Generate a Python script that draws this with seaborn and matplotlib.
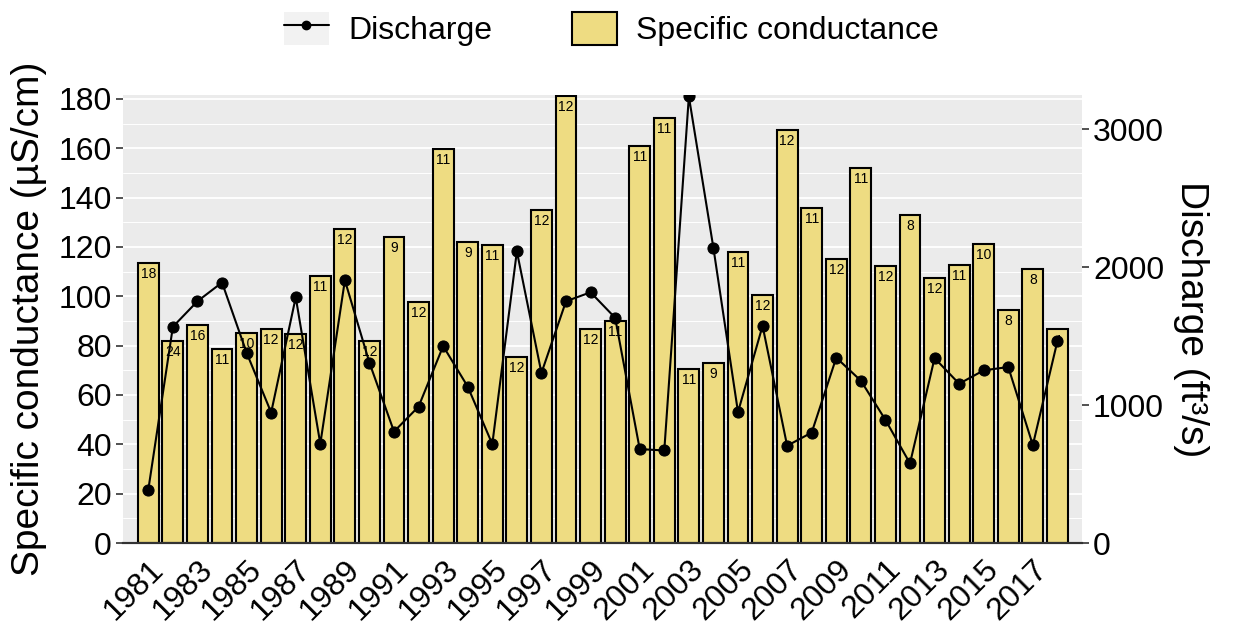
import numpy as np
import pandas as pd
import matplotlib.pyplot as plt
import seaborn as sns
from matplotlib.lines import Line2D
from matplotlib.patches import Patch
from matplotlib.legend_handler import HandlerTuple
from matplotlib.ticker import MultipleLocator

# values
years = list(range(1981, 2019))
conductance = [113.6, 82.0, 88.4, 78.8, 85.0, 86.9, 84.7, 108.2, 127.3, 82.0,
               124.2, 97.6, 159.7, 121.9, 120.7, 75.4, 134.9, 181.3, 86.7, 90.1,
               160.8, 172.2, 70.7, 73.0, 118.0, 100.7, 167.4, 135.8, 115.1, 152.0,
               112.4, 133.1, 107.4, 112.6, 121.2, 94.4, 111.1, 86.6]
samples = [18, 24, 16, 11, 10, 12, 12, 11, 12, 12,
           9, 12, 11, 9, 11, 12, 12, 12, 12, 11,
           11, 11, 11, 9, 11, 12, 12, 11, 12, 11,
           12, 8, 12, 11, 10, 8, 8, 4]
discharge = [387, 1568, 1753, 1889, 1380, 946, 1782, 719, 1905, 1307,
             808, 989, 1428, 1134, 717, 2115, 1233, 1753, 1818, 1633,
             681, 671, 3238, 2139, 949, 1575, 705, 801, 1344, 1177,
             893, 577, 1341, 1155, 1252, 1276, 710, 1464]

df = pd.DataFrame({'year': years, 'conductance': conductance,
                   'samples': samples, 'discharge': discharge})

bar_color = '#EEDC82'

sns.set_theme(style='darkgrid', rc={'axes.facecolor': '#EBEBEB', 'axes.grid': False,
                                    'text.color': 'black', 'axes.labelcolor': 'black'})
plt.rcParams['font.family'] = ['Liberation Sans', 'DejaVu Sans']

fig = plt.figure(figsize=(12.35, 6.24), dpi=100)
ax = fig.add_axes([0.0996, 0.1298, 0.7765, 0.718])

sns.barplot(data=df, x='year', y='conductance', native_scale=True, width=0.85,
            color=bar_color, saturation=1, edgecolor='black', linewidth=1.5, ax=ax)

# sample counts inside top of bars
for yr, val, n in zip(years, conductance, samples):
    ax.annotate(str(n), (yr, val), xytext=(0, -3), textcoords='offset points',
                ha='center', va='top', fontsize=10)

ax.set_xlim(1979.97, 2019.0)
ax.set_ylim(0, 181.6)
ax.set_yticks(range(0, 181, 20))
ax.yaxis.set_minor_locator(MultipleLocator(10))
ax.yaxis.grid(True, which='major', color='white', linewidth=1.3)
ax.yaxis.grid(True, which='minor', color='white', linewidth=0.7)
ax.set_axisbelow(True)
ax.set_xticks(years[::2])
ax.set_xticklabels([str(y) for y in years[::2]], rotation=45, ha='right',
                   va='top', rotation_mode='anchor')
ax.tick_params(axis='both', which='major', labelsize=23, length=5, width=1.2,
               color='#333333', labelcolor='black', pad=3)
ax.tick_params(axis='y', which='minor', length=0)
ax.set_xlabel('')
ax.set_ylabel('Specific conductance (µS/cm)', fontsize=28, labelpad=8)

ax2 = ax.twinx()
sns.lineplot(data=df, x='year', y='discharge', ax=ax2, color='black', marker='o',
             markersize=8, markeredgecolor='black', linewidth=1.5)
ax2.set_ylim(0, 181.6 * 17.89)
ax2.set_yticks([0, 1000, 2000, 3000])
ax2.grid(False)
ax2.tick_params(axis='y', labelsize=23, length=5, width=1.2, color='#333333',
                labelcolor='black', pad=3)
ax2.set_ylabel('Discharge (ft³/s)', fontsize=28, rotation=270, labelpad=32)
ax2.set_xlabel('')

for a in (ax, ax2):
    for s in ('top', 'left', 'right'):
        a.spines[s].set_visible(False)
    a.spines['bottom'].set_visible(True)
    a.spines['bottom'].set_color('#333333')
    a.spines['bottom'].set_linewidth(1.5)

handles = [(Patch(facecolor='#F2F2F2', edgecolor='none'),
            Line2D([], [], color='black', marker='o', markersize=6, linewidth=1.5)),
           Patch(facecolor=bar_color, edgecolor='black', linewidth=1.5)]
fig.legend(handles=handles, labels=['Discharge', 'Specific conductance'],
           handler_map={tuple: HandlerTuple(ndivide=1)}, ncol=2,
           loc='upper center', bbox_to_anchor=(0.495, 1.012), frameon=False,
           fontsize=23, handlelength=1.4, handleheight=1.25,
           columnspacing=2.5, handletextpad=0.6, borderaxespad=0.2)

fig.savefig('out.png', dpi=100)
